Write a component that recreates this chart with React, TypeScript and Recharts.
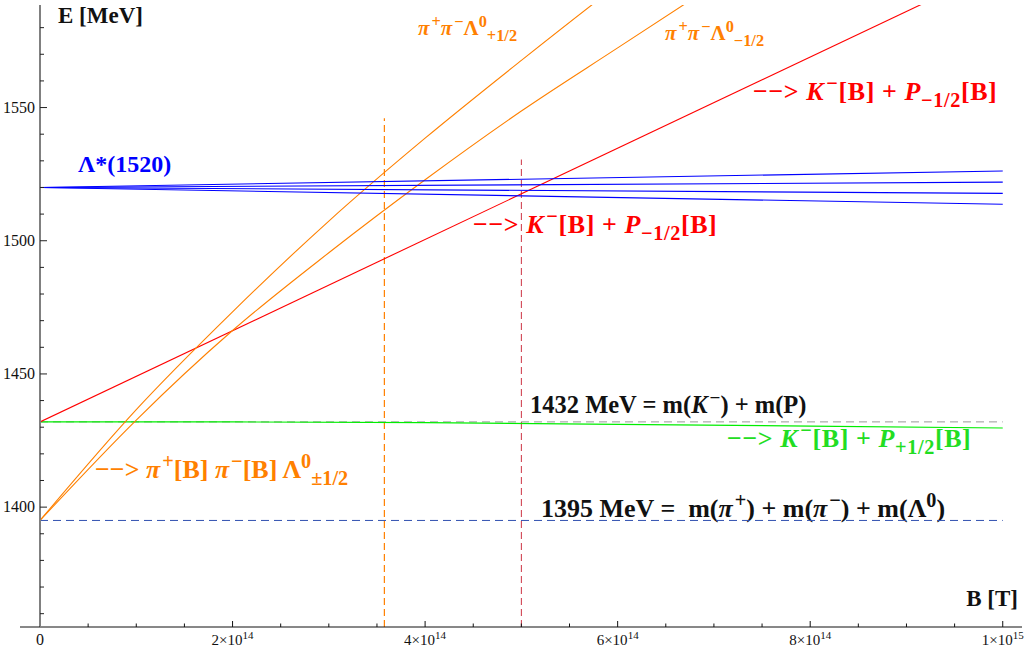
import React from 'react';
import { LineChart, Line, XAxis, YAxis, Customized } from 'recharts';

const SERIF = '"Liberation Serif", "Times New Roman", serif';

// B field [T] against energy [MeV]
const lambdaB = [0, 1e15];
const lambdaM32 = [1520, 1526.2];
const lambdaM12 = [1520, 1522.0];
const lambdaP12 = [1520, 1517.8];
const lambdaP32 = [1520, 1513.7];

const pionB = [0, 1e14, 2e14, 3e14, 4e14, 5e14, 6e14, 7e14];
const pionPlusHalf = [1395, 1436.6, 1473.3, 1507.4, 1538.5, 1567.7, 1596.0, 1623.0];
const pionMinusHalf = [1395, 1432.7, 1466.3, 1495.5, 1522.9, 1548.7, 1572.4, 1596.0];

const kaonMinusB = [0, 1e15];
const kaonMinusHalf = [1432, 1603.2];
const kaonPlusB = [0, 2e14, 4e14, 6e14, 8e14, 1e15];
const kaonPlusHalf = [1432, 1432, 1431.7, 1431.1, 1430.4, 1429.7];

const thresholdB = [0, 1e15];
const kpThreshold = 1432;
const pionThreshold = 1395;

const crossingB = [3.577e14, 5e14];
const crossingTop = [1546, 1530.5];

const yMajor = [1400, 1450, 1500, 1550];
const xMajor = [2e14, 4e14, 6e14, 8e14, 1e15];

const Y_MIN = 1355;
const Y_MAX = 1588.5;
const X_MAX = 1.02e15;

const yTicks = Array.from({ length: 23 }, (_, i) => 1360 + i * 10);
const xTicks = Array.from({ length: 21 }, (_, i) => i * 5e13);

const pts = (bs: number[], es: number[]) => bs.map((b, i) => ({ b, e: es[i] }));
const flat = (bs: number[], e: number) => bs.map((b) => ({ b, e }));

function YTick(props: any) {
  const { x, y, payload } = props;
  const v = payload.value;
  const major = yMajor.includes(v);
  return (
    <g>
      <line x1={x} x2={x + (major ? 7 : 4)} y1={y} y2={y} stroke="#222" />
      {major && (
        <text x={x - 5} y={y + 5} textAnchor="end" fontFamily={SERIF} fontSize={16} fill="#111">
          {v}
        </text>
      )}
    </g>
  );
}

function XTick(props: any) {
  const { x, y, payload } = props;
  const v = payload.value;
  if (v === 0) {
    return (
      <g>
        <line x1={x - 20} x2={x} y1={y} y2={y} stroke="#111" />
        <text x={x} y={y + 18} textAnchor="middle" fontFamily={SERIF} fontSize={16} fill="#111">0</text>
      </g>
    );
  }
  const major = xMajor.includes(v);
  const exp = Math.floor(Math.log10(v) + 1e-9);
  const mant = Math.round(v / Math.pow(10, exp));
  return (
    <g>
      <line x1={x} x2={x} y1={y} y2={y - (major ? 6 : 3.5)} stroke="#111" />
      {major && (
        <text x={x} y={y + 18} textAnchor="middle" fontFamily={SERIF} fontSize={15} fill="#111">
          {mant}×10
          <tspan dy={-6} fontSize={11}>{exp}</tspan>
        </text>
      )}
    </g>
  );
}

type Seg = { t: string; i?: boolean; s?: 'sup' | 'sub' };

function Rich({ x, y, size, color, segs, spacing = 0 }: { x: number; y: number; size: number; color: string; segs: Seg[]; spacing?: number }) {
  let level = 0;
  return (
    <text x={x} y={y} fill={color} fontFamily={SERIF} fontWeight="bold" fontSize={size} letterSpacing={spacing} style={{ whiteSpace: 'pre' }}>
      {segs.map((seg, k) => {
        const target = seg.s === 'sup' ? -size * 0.38 : seg.s === 'sub' ? size * 0.28 : 0;
        const dy = target - level;
        level = target;
        const afterItalic = k > 0 && segs[k - 1].i && seg.s === 'sup';
        return (
          <tspan key={k} dy={dy} dx={afterItalic ? 2 : 0} fontSize={seg.s ? size * 0.78 : size} fontStyle={seg.i ? 'italic' : 'normal'}>
            {seg.t}
          </tspan>
        );
      })}
    </text>
  );
}

const kaonMinusLabel: Seg[] = [
  { t: '−−> ' }, { t: 'K', i: true }, { t: '−', s: 'sup' }, { t: '[B] + ' },
  { t: 'P', i: true }, { t: '−1/2', s: 'sub' }, { t: '[B]' },
];
const kaonPlusLabel: Seg[] = [
  { t: '−−> ' }, { t: 'K', i: true }, { t: '−', s: 'sup' }, { t: '[B] + ' },
  { t: 'P', i: true }, { t: '+1/2', s: 'sub' }, { t: '[B]' },
];

function Annotations() {
  return (
    <g>
      <text x={58} y={23} fontFamily={SERIF} fontWeight="bold" fontSize={23} fill="#111">E [MeV]</text>
      <text x={1018} y={606} textAnchor="end" fontFamily={SERIF} fontWeight="bold" fontSize={23} fill="#111">B [T]</text>
      <text x={78} y={172} fontFamily={SERIF} fontWeight="bold" fontSize={24} fill="#0000ff">Λ*(1520)</text>
      <Rich x={418} y={35} size={21} color="#ff8000" segs={[
        { t: 'π', i: true }, { t: '+', s: 'sup' }, { t: 'π', i: true }, { t: '−', s: 'sup' },
        { t: 'Λ' }, { t: '0', s: 'sup' }, { t: '+1/2', s: 'sub' },
      ]} />
      <Rich x={665} y={40} size={21} color="#ff8000" segs={[
        { t: 'π', i: true }, { t: '+', s: 'sup' }, { t: 'π', i: true }, { t: '−', s: 'sup' },
        { t: 'Λ' }, { t: '0', s: 'sup' }, { t: '−1/2', s: 'sub' },
      ]} />
      <Rich x={753} y={100} size={26} color="#ff0000" spacing={0.6} segs={kaonMinusLabel} />
      <Rich x={473} y={233} size={26} color="#ff0000" spacing={0.6} segs={kaonMinusLabel} />
      <Rich x={530} y={413} size={24.5} color="#111" segs={[
        { t: '1432 MeV = m(' }, { t: 'K', i: true }, { t: '−', s: 'sup' }, { t: ') + m(P)' },
      ]} />
      <Rich x={727} y={447} size={26} color="#22dd22" spacing={0.6} segs={kaonPlusLabel} />
      <Rich x={95} y={478} size={26} color="#ff8000" segs={[
        { t: '−−> ' }, { t: 'π', i: true }, { t: '+', s: 'sup' }, { t: '[B] ' },
        { t: 'π', i: true }, { t: '−', s: 'sup' }, { t: '[B] Λ' }, { t: '0', s: 'sup' }, { t: '±1/2', s: 'sub' },
      ]} />
      <Rich x={541} y={517} size={26} color="#111" segs={[
        { t: '1395 MeV =  m(' }, { t: 'π', i: true }, { t: '+', s: 'sup' }, { t: ') + m(' },
        { t: 'π', i: true }, { t: '−', s: 'sup' }, { t: ') + m(Λ' }, { t: '0', s: 'sup' }, { t: ')' },
      ]} />
    </g>
  );
}

export default function App() {
  const common = { dataKey: 'e', dot: false, activeDot: false, isAnimationActive: false } as const;
  return (
    <div style={{ position: 'absolute', left: 0, top: 0, width: 1027, height: 653, background: '#fff' }}>
      <LineChart width={1027} height={653} margin={{ top: 5, right: 5, bottom: 0, left: 39 }}>
        <XAxis
          dataKey="b"
          type="number"
          domain={[0, X_MAX]}
          allowDataOverflow
          ticks={xTicks}
          interval={0}
          height={26}
          tickSize={0}
          tickMargin={0}
          tickLine={false}
          axisLine={{ stroke: '#111', strokeWidth: 1 }}
          tick={<XTick />}
        />
        <YAxis
          type="number"
          domain={[Y_MIN, Y_MAX]}
          allowDataOverflow
          ticks={yTicks}
          interval={0}
          width={1}
          tickSize={0}
          tickMargin={0}
          tickLine={false}
          axisLine={{ stroke: '#808080', strokeWidth: 2 }}
          tick={<YTick />}
        />
        <Line {...common} data={flat(thresholdB, kpThreshold)} stroke="#999" strokeWidth={1} strokeDasharray="8 5" />
        <Line {...common} data={flat(thresholdB, pionThreshold)} stroke="#3050b0" strokeWidth={1} strokeDasharray="8 5" />
        <Line {...common} data={pts([crossingB[0], crossingB[0]], [Y_MIN, crossingTop[0]])} stroke="#ff8000" strokeWidth={1.2} strokeDasharray="7 4" />
        <Line {...common} data={pts([crossingB[1], crossingB[1]], [Y_MIN, crossingTop[1]])} stroke="#cc3344" strokeWidth={1} strokeDasharray="7 4" />
        <Line {...common} data={pts(kaonPlusB, kaonPlusHalf)} stroke="#00ee00" strokeWidth={1.2} />
        <Line {...common} data={pts(kaonMinusB, kaonMinusHalf)} stroke="#ff0000" strokeWidth={1.1} />
        <Line {...common} type="monotone" data={pts(pionB, pionPlusHalf)} stroke="#ff8000" strokeWidth={1.1} />
        <Line {...common} type="monotone" data={pts(pionB, pionMinusHalf)} stroke="#ff8000" strokeWidth={1.1} />
        <Line {...common} data={pts(lambdaB, lambdaM32)} stroke="#0000ff" strokeWidth={1.1} />
        <Line {...common} data={pts(lambdaB, lambdaM12)} stroke="#0000ff" strokeWidth={1.1} />
        <Line {...common} data={pts(lambdaB, lambdaP12)} stroke="#0000ff" strokeWidth={1.1} />
        <Line {...common} data={pts(lambdaB, lambdaP32)} stroke="#0000ff" strokeWidth={1.1} />
        <Customized component={Annotations} />
      </LineChart>
    </div>
  );
}
